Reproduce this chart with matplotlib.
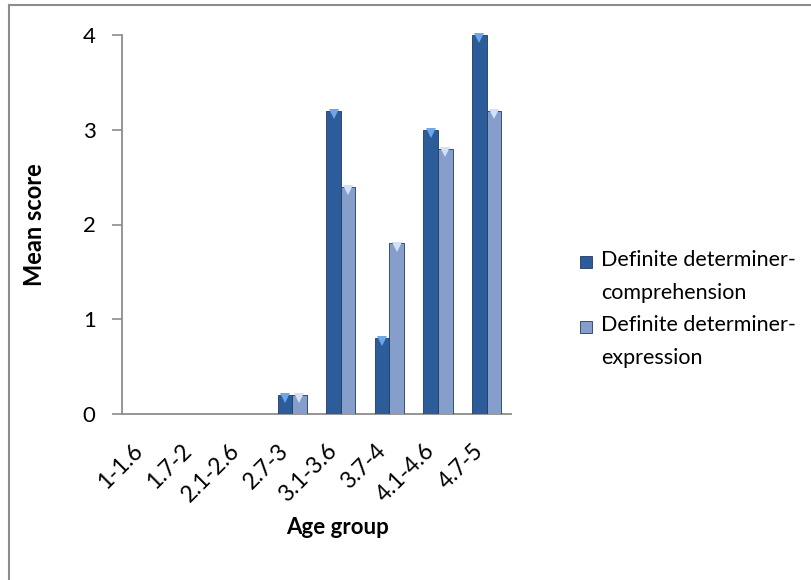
import matplotlib
matplotlib.use("Agg")
import matplotlib.pyplot as plt
from matplotlib.patches import Rectangle
from matplotlib.lines import Line2D
from matplotlib.transforms import offset_copy, ScaledTranslation
import numpy as np

plt.rcParams['font.family'] = ['Lato', 'DejaVu Sans']

categories = ["1-1.6", "1.7-2", "2.1-2.6", "2.7-3", "3.1-3.6", "3.7-4", "4.1-4.6", "4.7-5"]
comprehension = [0, 0, 0, 0.2, 3.2, 0.8, 3.0, 4.0]
expression = [0, 0, 0, 0.2, 2.4, 1.8, 2.8, 3.2]
series_labels = ["Definite determiner-\ncomprehension", "Definite determiner-\nexpression"]
colors = ["#2D5C9B", "#859ECC"]
cap_colors = ["#6FA6E6", "#D2E2F6"]
yticks = [0, 1, 2, 3, 4]

W, H = 812, 580
fig = plt.figure(figsize=(W / 100, H / 100), dpi=100)
ax = fig.add_axes([122 / W, 1 - 414 / H, 389 / W, 379 / H])

x = np.arange(len(categories))
bw = 0.3
cap_tr = offset_copy(ax.transData, fig=fig, x=0, y=-2.2, units="points")
for vals, off, col, cc in [(comprehension, -bw / 2, colors[0], cap_colors[0]),
                           (expression, bw / 2, colors[1], cap_colors[1])]:
    ax.bar(x + off, vals, width=bw, color=col, edgecolor="#1F3A60", linewidth=0.6, zorder=3)
    v = np.array(vals)
    m = v > 0
    ax.plot((x + off)[m], v[m], linestyle="none", marker="v", markersize=6.5,
            color=cc, markeredgewidth=0, transform=cap_tr, zorder=4, clip_on=False)

ax.set_xlim(-0.5, len(categories) - 0.5)
ax.set_ylim(0, 4)
ax.set_yticks(yticks)
ax.set_yticklabels([str(t) for t in yticks], fontsize=16)
ax.set_xticks(x)
ax.set_xticklabels(categories, rotation=45, ha="right", va="center", rotation_mode="anchor", fontsize=16.5)
ax.tick_params(axis="x", length=0, pad=24)
ax.tick_params(axis="y", length=7, width=1.2, color="#8C8C8C", direction="out", pad=12)
shift = ScaledTranslation(-7 / 100, 0, fig.dpi_scale_trans)
for lbl in ax.get_xticklabels():
    lbl.set_transform(lbl.get_transform() + shift)

for s in ["top", "right"]:
    ax.spines[s].set_visible(False)
for s in ["left", "bottom"]:
    ax.spines[s].set_color("#8C8C8C")
    ax.spines[s].set_linewidth(1.3)

ax.set_ylabel("Mean score", fontsize=17, fontweight="bold")
ax.yaxis.set_label_coords(-0.195, 0.5)
fig.text(338 / W, 1 - 527 / H, "Age group", fontsize=16, fontweight="bold", ha="center", va="center")

# Legend
legend_y = [262, 327]
for col, lab, yy in zip(colors, series_labels, legend_y):
    fig.patches.append(Rectangle((580 / W, 1 - (yy + 6) / H), 12 / W, 12 / H,
                                 transform=fig.transFigure, facecolor=col, edgecolor="#1F3A60", linewidth=0.6))
    fig.text(601 / W, 1 - (yy - 12) / H, lab, fontsize=15.5, ha="left", va="top", linespacing=1.8)

# Outer border
fig.add_artist(Line2D([9 / W, 9 / W], [0, 1 - 5 / H], transform=fig.transFigure, color="#8C8C8C", linewidth=1.5))
fig.add_artist(Line2D([9 / W, 1], [1 - 5 / H, 1 - 5 / H], transform=fig.transFigure, color="#8C8C8C", linewidth=1.5))

fig.savefig("out.png", dpi=100, facecolor="white")
